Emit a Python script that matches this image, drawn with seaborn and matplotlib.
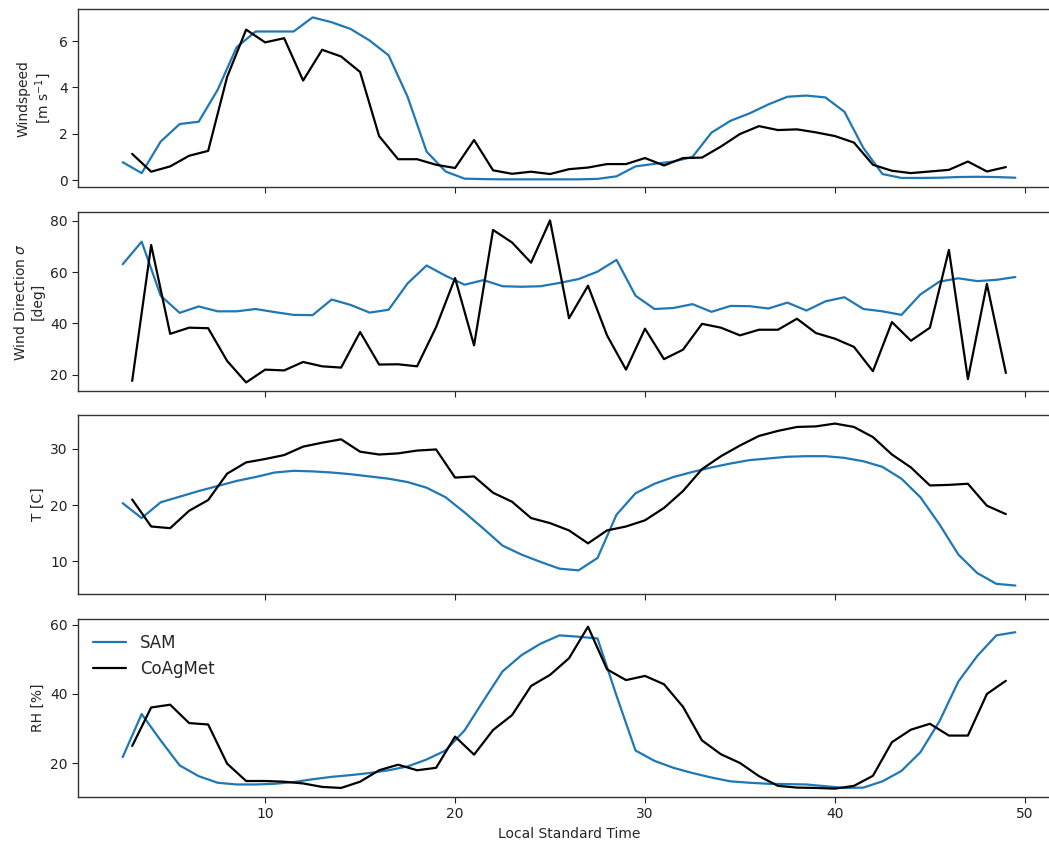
import numpy as np
import pandas as pd
import matplotlib
matplotlib.use("Agg")
import matplotlib.pyplot as plt
import seaborn as sns

# ---- data ----
sam_time = [2.5 + i for i in range(48)]
coag_time = [3 + i for i in range(47)]

sam_ws = [0.77, 0.30, 1.66, 2.42, 2.52, 3.9, 5.74, 6.42, 6.42, 6.42, 7.03, 6.82, 6.53, 6.03,
          5.39, 3.6, 1.23, 0.37, 0.06, 0.04, 0.03, 0.03, 0.03, 0.03, 0.03, 0.05, 0.16, 0.59,
          0.70, 0.80, 1.0, 2.05, 2.56, 2.88, 3.27, 3.6, 3.65, 3.57, 2.95, 1.38, 0.26, 0.09,
          0.09, 0.10, 0.13, 0.14, 0.13, 0.10]
coag_ws = [1.13, 0.36, 0.59, 1.05, 1.26, 4.46, 6.5, 5.95, 6.13, 4.3, 5.63, 5.34, 4.67, 1.9,
           0.9, 0.9, 0.66, 0.52, 1.73, 0.42, 0.27, 0.36, 0.26, 0.47, 0.54, 0.69, 0.69, 0.95,
           0.63, 0.95, 0.97, 1.45, 1.99, 2.33, 2.16, 2.19, 2.06, 1.9, 1.62, 0.66, 0.40, 0.30,
           0.37, 0.44, 0.80, 0.37, 0.56]

sam_wd = [63.1, 71.9, 50.8, 44.1, 46.6, 44.7, 44.7, 45.6, 44.4, 43.3, 43.2, 49.3, 47.2, 44.2,
          45.3, 55.6, 62.6, 58.6, 55.1, 56.9, 54.5, 54.3, 54.5, 55.8, 57.3, 60.2, 64.8, 50.8,
          45.6, 46.0, 47.5, 44.5, 46.8, 46.7, 45.8, 48.1, 45.0, 48.6, 50.2, 45.6, 44.7, 43.3,
          51.3, 56.3, 57.6, 56.5, 57.0, 58.1]
coag_wd = [17.5, 70.6, 35.9, 38.3, 38.1, 25.3, 16.9, 21.9, 21.6, 24.9, 23.2, 22.7, 36.6, 23.9,
           24.0, 23.2, 38.5, 57.7, 31.4, 76.5, 71.6, 63.7, 80.2, 42.0, 54.7, 35.3, 21.9, 37.9,
           26.0, 29.7, 39.8, 38.3, 35.3, 37.5, 37.5, 41.8, 36.2, 34.0, 30.8, 21.3, 40.5, 33.2,
           38.3, 68.7, 18.2, 55.4, 20.6]

sam_t = [20.35, 17.7, 20.5, 21.5, 22.5, 23.4, 24.3, 25.0, 25.8, 26.1, 26.0, 25.8, 25.5, 25.1,
         24.7, 24.1, 23.1, 21.4, 18.7, 15.8, 12.8, 11.2, 9.9, 8.7, 8.4, 10.6, 18.3, 22.1,
         23.8, 25.0, 25.9, 26.7, 27.4, 28.0, 28.3, 28.6, 28.7, 28.7, 28.4, 27.8, 26.8, 24.7,
         21.4, 16.6, 11.2, 7.9, 6.0, 5.7]
coag_t = [21.0, 16.2, 15.9, 19.0, 20.9, 25.6, 27.6, 28.2, 28.9, 30.4, 31.1, 31.7, 29.5, 29.0,
          29.2, 29.7, 29.9, 24.9, 25.1, 22.2, 20.6, 17.7, 16.8, 15.5, 13.2, 15.5, 16.2, 17.3,
          19.5, 22.5, 26.4, 28.7, 30.6, 32.3, 33.2, 33.9, 34.0, 34.5, 33.9, 32.1, 29.0, 26.7,
          23.5, 23.6, 23.8, 19.9, 18.4]

sam_rh = [21.8, 34.2, 26.6, 19.4, 16.3, 14.4, 13.9, 13.9, 14.1, 14.6, 15.4, 16.1, 16.6, 17.2,
          18.0, 19.1, 21.1, 23.7, 29.5, 38.1, 46.5, 51.2, 54.5, 56.9, 56.5, 56.0, 39.5, 23.7,
          20.7, 18.7, 17.2, 15.9, 14.8, 14.4, 14.1, 14.0, 13.9, 13.4, 12.9, 13.0, 14.8, 17.8,
          23.2, 32.1, 43.6, 51.0, 56.9, 57.8]
coag_rh = [25.0, 36.1, 36.9, 31.6, 31.2, 19.9, 14.9, 14.9, 14.7, 14.2, 13.2, 12.9, 14.7, 18.0,
           19.6, 18.0, 18.7, 27.7, 22.5, 29.6, 33.9, 42.3, 45.5, 50.3, 59.4, 47.1, 44.0, 45.2,
           42.8, 36.3, 26.6, 22.6, 20.1, 16.3, 13.5, 13.0, 12.9, 12.7, 13.5, 16.4, 26.1, 29.7,
           31.4, 28.0, 28.0, 40.0, 43.8]

ylabels = ["Windspeed\n[m s$^{-1}$]", "Wind Direction $\\sigma$\n[deg]", "T [C]", "RH [%]"]
yticks = [[0, 2, 4, 6], [20, 40, 60, 80], [10, 20, 30], [20, 40, 60]]
xticks = [10, 20, 30, 40, 50]
sam_series = [sam_ws, sam_wd, sam_t, sam_rh]
coag_series = [coag_ws, coag_wd, coag_t, coag_rh]

sns.set_style("ticks")
plt.rcParams['font.family'] = ['DejaVu Sans']
plt.rcParams['axes.edgecolor'] = '#333333'

fig, axes = plt.subplots(4, 1, sharex=True, figsize=(10.49, 8.44), dpi=100)
fig.subplots_adjust(left=0.0744, right=1.0105, top=0.989, bottom=0.056, hspace=0.14)

for i, ax in enumerate(axes):
    sns.lineplot(x=sam_time, y=sam_series[i], ax=ax, color='#1f77b4', lw=1.6, label='SAM')
    sns.lineplot(x=coag_time, y=coag_series[i], ax=ax, color='black', lw=1.6, label='CoAgMet')
    ax.set_ylabel(ylabels[i], fontsize=10)
    ax.set_yticks(yticks[i])
    ax.tick_params(labelsize=10, colors='#222222', direction='out', length=4)
    for s in ax.spines.values():
        s.set_visible(True)
        s.set_linewidth(1.0)
    if i < 3:
        ax.get_legend().remove()
    else:
        ax.legend(loc='upper left', frameon=False, fontsize=12)

axes[-1].set_xlabel("Local Standard Time", fontsize=10)
axes[-1].set_xticks(xticks)

fig.savefig("out.png", dpi=100)
